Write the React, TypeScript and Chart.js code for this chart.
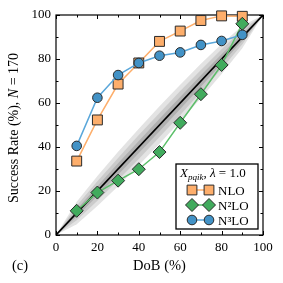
import React, { useEffect, useRef } from "react";
import { Chart, registerables } from "chart.js";

Chart.register(...registerables);

// ---- data ----
const dob = [10, 20, 30, 40, 50, 60, 70, 80, 90];
const nlo = [33.6, 52.3, 68.6, 78.2, 88.0, 92.7, 97.5, 99.6, 99.4];
const n2lo = [11.0, 19.3, 24.7, 29.9, 37.7, 51.0, 64.0, 77.3, 96.0];
const n3lo = [40.5, 62.4, 72.7, 78.2, 81.5, 83.0, 86.4, 88.2, 91.0];

const xTicks = [0, 20, 40, 60, 80, 100];
const yTicks = [0, 20, 40, 60, 80, 100];
const minorTicks = [10, 30, 50, 70, 90];

const diagX = [0, 100];
const bandX = [0, 10, 20, 30, 40, 50, 60, 70, 80, 90, 100];
const outerHalf = [0, 5.1, 6.8, 7.8, 8.3, 8.5, 8.3, 7.8, 6.8, 5.1, 0];
const midHalf = [0, 3.3, 4.4, 5.0, 5.4, 5.5, 5.4, 5.0, 4.4, 3.3, 0];
const innerHalf = [0, 1.7, 2.2, 2.6, 2.7, 2.8, 2.7, 2.6, 2.2, 1.7, 0];

const seriesNames = ["NLO", "N²LO", "N³LO"];
const xTitle = "DoB (%)";
const panelLabel = "(c)";

const FONT = "'Liberation Serif', 'DejaVu Serif', serif";
const EDGE = "#2a2a2a";
const C_NLO = { fill: "#fdae6b", line: "#fdae6b" };
const C_N2 = { fill: "#41ab5d", line: "#5cbf6a" };
const C_N3 = { fill: "#4292c6", line: "#5aa7da" };

function drawMarker(ctx: CanvasRenderingContext2D, kind: string, x: number, y: number, fill: string) {
  ctx.save();
  ctx.fillStyle = fill;
  ctx.strokeStyle = EDGE;
  ctx.lineWidth = 1;
  ctx.beginPath();
  if (kind === "rect") {
    const s = 4.9;
    ctx.rect(x - s, y - s, 2 * s, 2 * s);
  } else if (kind === "rectRot") {
    const r = 6.5;
    ctx.moveTo(x - r, y);
    ctx.lineTo(x, y - r);
    ctx.lineTo(x + r, y);
    ctx.lineTo(x, y + r);
    ctx.closePath();
  } else {
    ctx.arc(x, y, 4.8, 0, Math.PI * 2);
  }
  ctx.fill();
  ctx.stroke();
  ctx.restore();
}

export default function App() {
  const ref = useRef<HTMLCanvasElement>(null);

  useEffect(() => {
    if (!ref.current) return;

    const decor = {
      id: "decor",
      beforeDatasetsDraw(chart: any) {
        const { ctx, chartArea: a } = chart;
        const xs = chart.scales.x;
        const ys = chart.scales.y;
        ctx.save();
        ctx.beginPath();
        ctx.rect(a.left, a.top, a.right - a.left, a.bottom - a.top);
        ctx.clip();
        const bands: [number[], string][] = [
          [outerHalf, "#e3e3e3"],
          [midHalf, "#cbcbcb"],
          [innerHalf, "#b0b0b0"],
        ];
        for (const [half, color] of bands) {
          ctx.beginPath();
          bandX.forEach((v, i) => {
            const px = xs.getPixelForValue(v);
            const py = ys.getPixelForValue(v + half[i]);
            if (i === 0) ctx.moveTo(px, py);
            else ctx.lineTo(px, py);
          });
          for (let i = bandX.length - 1; i >= 0; i--) {
            ctx.lineTo(xs.getPixelForValue(bandX[i]), ys.getPixelForValue(bandX[i] - half[i]));
          }
          ctx.closePath();
          ctx.fillStyle = color;
          ctx.fill();
        }
        ctx.restore();

        // frame + inward ticks
        ctx.save();
        ctx.strokeStyle = "#000";
        ctx.lineWidth = 1;
        const tick = (vals: number[], len: number) => {
          for (const v of vals) {
            const px = Math.round(xs.getPixelForValue(v)) + 0.5;
            const py = Math.round(ys.getPixelForValue(v)) + 0.5;
            ctx.beginPath();
            ctx.moveTo(px, a.bottom); ctx.lineTo(px, a.bottom - len);
            ctx.moveTo(px, a.top); ctx.lineTo(px, a.top + len);
            ctx.moveTo(a.left, py); ctx.lineTo(a.left + len, py);
            ctx.moveTo(a.right, py); ctx.lineTo(a.right - len, py);
            ctx.stroke();
          }
        };
        tick(xTicks, 4);
        tick(minorTicks, 2.5);
        ctx.lineWidth = 1.2;
        ctx.strokeRect(a.left, a.top, a.right - a.left, a.bottom - a.top);
        ctx.restore();
      },
      afterDraw(chart: any) {
        const { ctx, chartArea: a } = chart;
        ctx.save();
        ctx.fillStyle = "#000";
        ctx.textBaseline = "alphabetic";
        // x title
        ctx.font = `14.5px ${FONT}`;
        ctx.textAlign = "center";
        ctx.fillText(xTitle, (a.left + a.right) / 2, 270);
        ctx.textAlign = "left";
        ctx.fillText(panelLabel, 12, 270);

        // y title with italic N
        ctx.save();
        ctx.translate(18, 128);
        ctx.rotate(-Math.PI / 2);
        const p1 = "Success Rate (%), ";
        const p2 = "N";
        const p3 = " = 170";
        const fs = 14;
        ctx.font = `${fs}px ${FONT}`;
        const w1 = ctx.measureText(p1).width;
        const w3 = ctx.measureText(p3).width;
        ctx.font = `italic ${fs}px ${FONT}`;
        const w2 = ctx.measureText(p2).width;
        let x0 = -(w1 + w2 + w3) / 2;
        ctx.font = `${fs}px ${FONT}`;
        ctx.fillText(p1, x0, 0);
        x0 += w1;
        ctx.font = `italic ${fs}px ${FONT}`;
        ctx.fillText(p2, x0, 0);
        x0 += w2;
        ctx.font = `${fs}px ${FONT}`;
        ctx.fillText(p3, x0, 0);
        ctx.restore();

        // legend
        const lx = 176, ly = 164, lw = 82, lh = 65;
        ctx.fillStyle = "#fff";
        ctx.fillRect(lx, ly, lw, lh);
        ctx.strokeStyle = "#000";
        ctx.lineWidth = 1.3;
        ctx.strokeRect(lx, ly, lw, lh);

        // title
        ctx.fillStyle = "#000";
        let tx = 180;
        const tb = 176.5;
        ctx.font = `italic 13px ${FONT}`;
        ctx.fillText("X", tx, tb);
        tx += ctx.measureText("X").width;
        ctx.font = `italic 9px ${FONT}`;
        ctx.fillText("pqik", tx, tb + 3);
        tx += ctx.measureText("pqik").width;
        ctx.font = `13px ${FONT}`;
        ctx.fillText(", ", tx, tb);
        tx += ctx.measureText(", ").width;
        ctx.font = `italic 13px ${FONT}`;
        ctx.fillText("λ", tx, tb);
        tx += ctx.measureText("λ").width;
        ctx.font = `13px ${FONT}`;
        ctx.fillText(" = 1.0", tx, tb);

        const entries: [string, string, { fill: string; line: string }, number][] = [
          [seriesNames[0], "rect", C_NLO, 190],
          [seriesNames[1], "rectRot", C_N2, 205],
          [seriesNames[2], "circle", C_N3, 220],
        ];
        for (const [name, kind, col, cy] of entries) {
          ctx.strokeStyle = col.line;
          ctx.lineWidth = 1.5;
          ctx.beginPath();
          ctx.moveTo(192, cy);
          ctx.lineTo(209, cy);
          ctx.stroke();
          drawMarker(ctx, kind, 192, cy, col.fill);
          drawMarker(ctx, kind, 209, cy, col.fill);
          ctx.fillStyle = "#000";
          ctx.font = `13px ${FONT}`;
          ctx.fillText(name, 218, cy + 4.5);
        }
        ctx.restore();
      },
    };

    const mk = (data: number[]) => dob.map((x, i) => ({ x, y: data[i] }));

    const chart = new Chart(ref.current, {
      type: "line",
      data: {
        datasets: [
          {
            label: seriesNames[2],
            data: mk(n3lo),
            borderColor: C_N3.line,
            backgroundColor: C_N3.fill,
            pointBackgroundColor: C_N3.fill,
            pointBorderColor: EDGE,
            pointBorderWidth: 1,
            pointStyle: "circle",
            pointRadius: 4.8,
            borderWidth: 1.5,
            order: 1,
            clip: false as any,
          },
          {
            label: seriesNames[1],
            data: mk(n2lo),
            borderColor: C_N2.line,
            backgroundColor: C_N2.fill,
            pointBackgroundColor: C_N2.fill,
            pointBorderColor: EDGE,
            pointBorderWidth: 1,
            pointStyle: "rectRot",
            pointRadius: 6.5,
            borderWidth: 1.5,
            order: 2,
            clip: false as any,
          },
          {
            label: seriesNames[0],
            data: mk(nlo),
            borderColor: C_NLO.line,
            backgroundColor: C_NLO.fill,
            pointBackgroundColor: C_NLO.fill,
            pointBorderColor: EDGE,
            pointBorderWidth: 1,
            pointStyle: "rect",
            pointRadius: 7,
            borderWidth: 1.5,
            order: 3,
            clip: false as any,
          },
          {
            label: "diag",
            data: diagX.map((v) => ({ x: v, y: v })),
            borderColor: "#000",
            borderWidth: 1.6,
            pointRadius: 0,
            order: 10,
          },
        ],
      },
      options: {
        responsive: false,
        animation: false,
        devicePixelRatio: 1,
        events: [],
        layout: { padding: { top: 15, right: 20, bottom: 16, left: 8 } },
        plugins: {
          legend: { display: false },
          tooltip: { enabled: false },
        },
        scales: {
          x: {
            type: "linear",
            min: 0,
            max: 100,
            afterFit: (s: any) => { s.height = 32; },
            afterBuildTicks: (s: any) => { s.ticks = xTicks.map((v) => ({ value: v })); },
            grid: { display: false, drawTicks: false },
            border: { display: false },
            ticks: { color: "#000", padding: 5, font: { family: FONT, size: 13 }, maxRotation: 0 },
          },
          y: {
            type: "linear",
            min: 0,
            max: 100,
            afterFit: (s: any) => { s.width = 48; },
            afterBuildTicks: (s: any) => { s.ticks = yTicks.map((v) => ({ value: v })); },
            grid: { display: false, drawTicks: false },
            border: { display: false },
            ticks: { color: "#000", padding: 5, font: { family: FONT, size: 13 } },
          },
        },
      },
      plugins: [decor],
    });

    return () => chart.destroy();
  }, []);

  return (
    <div style={{ position: "fixed", left: 0, top: 0, width: 283, height: 283, background: "#fff" }}>
      <canvas ref={ref} width={283} height={283} style={{ width: 283, height: 283, display: "block" }} />
    </div>
  );
}
